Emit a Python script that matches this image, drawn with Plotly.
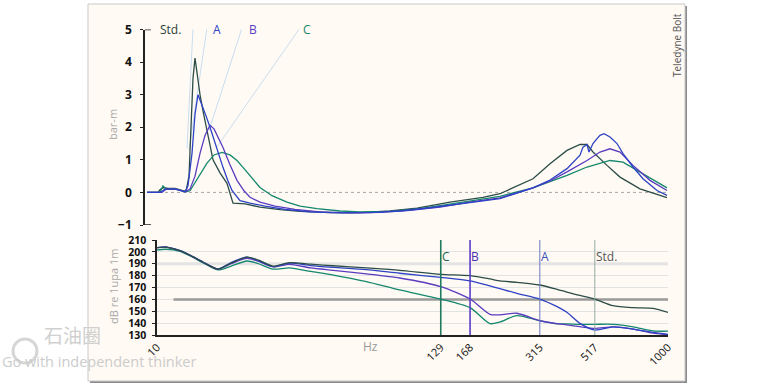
import math
import plotly.graph_objects as go

W, H = 775, 388

# ---------------- Upper panel: pressure signature (bar-m) vs time ----------------
std_t = [0, 11, 13, 16, 21, 28, 35, 39, 42, 44, 46, 48, 50, 53, 56, 61, 66, 73, 80, 86, 98, 113, 133, 153,
         183, 213, 243, 270, 303, 336, 353, 386, 403, 420, 433, 440, 446, 460, 473, 493, 520]
std_v = [0, 0, 0.08, 0.15, 0.12, 0.12, 0.06, 0.03, 0.5, 2.0, 3.5, 4.12, 3.6, 3.0, 2.5, 1.7, 1.0, 0.6, 0.28,
         -0.33, -0.35, -0.45, -0.53, -0.58, -0.62, -0.62, -0.57, -0.48, -0.3, -0.15, -0.04, 0.42, 0.88,
         1.29, 1.47, 1.47, 1.24, 0.83, 0.47, 0.11, -0.16]

a_t = [0, 13, 18, 28, 38, 41, 45, 48, 51, 55, 59, 63, 69, 76, 81, 85, 93, 103, 118, 138, 163, 193, 223, 253,
       283, 313, 353, 386, 403, 420, 430, 433, 436, 440, 442, 446, 450, 453, 457, 463, 470, 476, 486, 496,
       510, 520]
a_v = [0, 0, 0.1, 0.1, 0.02, 0.2, 1.2, 2.4, 3.0, 2.7, 2.35, 2.0, 1.4, 0.77, 0.35, 0.06, -0.25, -0.33, -0.42,
       -0.52, -0.6, -0.63, -0.62, -0.57, -0.47, -0.35, -0.19, 0.14, 0.38, 0.73, 1.05, 1.14, 1.39, 1.47,
       1.24, 1.5, 1.65, 1.75, 1.8, 1.7, 1.5, 1.19, 0.78, 0.42, 0.06, -0.09]

b_t = [0, 15, 19, 29, 38, 43, 48, 53, 58, 63, 67, 71, 76, 83, 90, 97, 103, 113, 128, 148, 173, 203, 233,
       263, 293, 323, 353, 386, 403, 420, 440, 453, 463, 473, 486, 503, 520]
b_v = [0, 0, 0.1, 0.1, 0.02, 0.1, 0.5, 1.2, 1.75, 2.06, 1.95, 1.7, 1.38, 0.85, 0.37, 0.05, -0.15, -0.3,
       -0.42, -0.52, -0.6, -0.63, -0.61, -0.55, -0.45, -0.3, -0.17, 0.14, 0.35, 0.63, 0.98, 1.24, 1.34,
       1.24, 0.83, 0.37, 0.06]

c_t = [0, 13, 16, 19, 29, 39, 43, 48, 53, 60, 67, 75, 83, 90, 96, 103, 113, 125, 140, 153, 170, 193, 213,
       243, 273, 303, 333, 353, 386, 403, 420, 440, 463, 476, 493, 506, 520]
c_v = [0, 0, 0.2, 0.1, 0.1, 0.02, 0.05, 0.3, 0.58, 0.9, 1.15, 1.23, 1.15, 0.98, 0.77, 0.5, 0.15, -0.1, -0.3,
       -0.42, -0.5, -0.57, -0.6, -0.58, -0.5, -0.36, -0.22, -0.12, 0.14, 0.32, 0.52, 0.78, 0.98, 0.93,
       0.62, 0.37, 0.14]

upper_ticks = [-1, 0, 1, 2, 3, 4, 5]

# ---------------- Lower panel: spectrum (dB re 1upa 1m) vs frequency ----------------
freq = [10, 10.8, 12.3, 13.5, 15.1, 17.3, 19.5, 22.5, 25, 28.4, 33, 40, 49, 66, 89, 129, 168, 201, 220,
        256, 315, 368, 402, 452, 517, 609, 730, 874, 1000]
std_db = [203.5, 204, 201, 197, 191.5, 185.5, 190.5, 195.5, 193, 188, 191, 189.6, 188.3, 186.5, 184.5,
          181.1, 180, 177.2, 175.5, 174.4, 172.1, 168.5, 166.2, 163.3, 160.3, 154.7, 153, 152.4, 149.1]
a_db = [203.5, 204.2, 201, 197, 191.5, 185.5, 191, 195.5, 192.5, 187.5, 190.5, 188.5, 187, 185, 182,
        178.5, 175.5, 171.3, 169, 165.1, 160.3, 153.9, 149.1, 139.8, 134.2, 136.9, 135, 132.2, 130.6]
b_db = [203.5, 204, 201, 197, 191.5, 185.5, 190, 194.5, 192, 187.5, 189.5, 186.5, 184.5, 181.5, 178,
        170.7, 160.3, 147.4, 147, 148.3, 142, 139.5, 138.5, 137, 135.6, 136.9, 135, 131.5, 130.2]
c_db = [201.6, 202.2, 200.5, 196.5, 191, 184.8, 188, 192.3, 190, 185.5, 186.5, 183.5, 180.5, 175, 168,
        160.3, 153, 139.6, 141, 146.3, 142, 139.4, 139.4, 139, 139, 139, 136.9, 133.4, 133.2]

freq_marks = [129, 168, 315, 517]
freq_mark_names = ["C", "B", "A", "Std."]
x_tickvals = [10, 129, 168, 315, 517, 1000]
x_ticktext = ["10", "129", "168", "315", "517", "1000"]
lower_ticks = [130, 140, 150, 160, 170, 180, 190, 200, 210]
threshold_db = 160
threshold_start = 11.6
emph_db = 190

series_names = ["Std.", "A", "B", "C"]
col = {"Std.": "#2c4d47", "A": "#2d42c4", "B": "#5a3cc0", "C": "#14876d"}
mark_col = {"C": "#1f7a60", "B": "#5b3dc8", "A": "#6a7ac4", "Std.": "#93aba5"}
mark_w = {"C": 1.6, "B": 1.6, "A": 1.0, "Std.": 1.0}
label_col = {"C": "#1a6453", "B": "#4a30b0", "A": "#3a4fb8", "Std.": "#555555"}

# label positions in the upper panel (time units) and leader line ends
upper_label_t = {"Std.": 23, "A": 70, "B": 106, "C": 160}
leader = {"Std.": (46, 5.05, 40, 1.35), "A": (60, 5.05, 42, 1.3),
          "B": (95, 5.05, 62, 1.9), "C": (153, 5.05, 70, 1.4)}

FONT = "Open Sans"
AX_X = 145 / W  # upper y-axis position (paper)

fig = go.Figure()

# zero line (dotted)
fig.add_trace(go.Scatter(x=[std_t[0], std_t[-1]], y=[0, 0], mode="lines",
                         line=dict(color="#a8a8a8", width=1, dash="dot"), xaxis="x", yaxis="y"))

for name, t, v in [("Std.", std_t, std_v), ("C", c_t, c_v), ("B", b_t, b_v), ("A", a_t, a_v)]:
    fig.add_trace(go.Scatter(x=t, y=v, mode="lines", line=dict(color=col[name], width=1.3),
                             xaxis="x", yaxis="y"))

# lower: emphasised 190 line and 160 threshold
fig.add_trace(go.Scatter(x=[freq[0], freq[-1]], y=[emph_db, emph_db], mode="lines",
                         line=dict(color="#e4e4e4", width=3), xaxis="x2", yaxis="y2"))
fig.add_trace(go.Scatter(x=[threshold_start, freq[-1]], y=[threshold_db, threshold_db], mode="lines",
                         line=dict(color="#9a9a9a", width=2.5), xaxis="x2", yaxis="y2"))

for name, v in [("C", c_db), ("B", b_db), ("A", a_db), ("Std.", std_db)]:
    fig.add_trace(go.Scatter(x=freq, y=v, mode="lines",
                             line=dict(color=col[name], width=1.3, shape="spline", smoothing=0.7),
                             xaxis="x2", yaxis="y2"))

shapes = [
    dict(type="rect", xref="paper", yref="paper", x0=90 / W, x1=687 / W, y0=1 - 383 / H, y1=1 - 6 / H,
         fillcolor="#8c8c8c", line=dict(width=0), layer="below"),
    dict(type="rect", xref="paper", yref="paper", x0=88 / W, x1=685 / W, y0=1 - 381 / H, y1=1 - 4 / H,
         fillcolor="#fffaf3", line=dict(color="#c9c9c9", width=1), layer="below"),
    # watermark logo circle
    dict(type="circle", xref="paper", yref="paper", x0=13 / W, x1=37 / W, y0=1 - 363 / H, y1=1 - 339 / H,
         line=dict(color="#d6d6d6", width=3), layer="above"),
]
# inward end ticks of the upper y axis ("[" bracket)
for yv in (upper_ticks[0], upper_ticks[-1]):
    shapes.append(dict(type="line", xref="paper", yref="y", x0=AX_X, x1=AX_X + 6 / W, y0=yv, y1=yv,
                       line=dict(color="#222222", width=1.5)))
for name in series_names:
    x0, y0, x1, y1 = leader[name]
    shapes.append(dict(type="line", xref="x", yref="y", x0=x0, y0=y0, x1=x1, y1=y1,
                       line=dict(color="#c9dcf0", width=1), layer="below"))
for f, n in zip(freq_marks, freq_mark_names):
    shapes.append(dict(type="line", xref="x2", yref="y2", x0=f, x1=f, y0=lower_ticks[0], y1=lower_ticks[-1],
                       line=dict(color=mark_col[n], width=mark_w[n])))

annotations = []
for name in series_names:
    annotations.append(dict(x=upper_label_t[name], y=5, xref="x", yref="y", text=name, showarrow=False,
                            font=dict(family=FONT, size=12, color=col[name] if name != "Std." else "#2a3f3a"),
                            xanchor="center", yanchor="middle"))
for f, n in zip(freq_marks, freq_mark_names):
    # annotation x on a log axis is given in log10 units
    annotations.append(dict(x=math.log10(f), y=195.7, xref="x2", yref="y2", text=n, showarrow=False,
                            font=dict(family=FONT, size=12, color=label_col[n]),
                            xanchor="left", xshift=-1, yanchor="middle"))
annotations += [
    dict(x=113 / W, y=1 - 125 / H, xref="paper", yref="paper", text="bar-m", textangle=-90, showarrow=False,
         xanchor="center", yanchor="middle", font=dict(family=FONT, size=11, color="#a9a9a9")),
    dict(x=113 / W, y=1 - 287 / H, xref="paper", yref="paper", text="dB re 1upa 1m", textangle=-90,
         showarrow=False, xanchor="center", yanchor="middle",
         font=dict(family=FONT, size=11, color="#a9a9a9")),
    dict(x=370 / W, y=1 - 357 / H, xref="paper", yref="paper", text="Hz", showarrow=False,
         xanchor="center", font=dict(family=FONT, size=12, color="#9a9a9a")),
    dict(x=677 / W, y=1 - 45 / H, xref="paper", yref="paper", text="Teledyne Bolt", textangle=-90,
         showarrow=False, xanchor="center", yanchor="middle",
         font=dict(family=FONT, size=10, color="#555555")),
    dict(x=42 / W, y=1 - 350 / H, xref="paper", yref="paper", text="石油圈", showarrow=False,
         xanchor="left", font=dict(family="Noto Sans CJK SC", size=19, color="#d0d0d0")),
    dict(x=0 / W, y=1 - 373 / H, xref="paper", yref="paper", text="Go with independent thinker",
         showarrow=False, xanchor="left", font=dict(family=FONT, size=14.5, color="#cccccc")),
]

fig.update_layout(
    width=W, height=H, margin=dict(l=0, r=0, t=0, b=0, autoexpand=False),
    paper_bgcolor="white", plot_bgcolor="rgba(0,0,0,0)",
    showlegend=False, hovermode=False,
    font=dict(family=FONT, color="#111111"),
    xaxis=dict(domain=[AX_X, 668 / W], range=[-2, 521], visible=False, anchor="y", automargin=False),
    yaxis=dict(domain=[1 - 225 / H, 1 - 29.5 / H], range=[-1, 5], tickvals=upper_ticks, automargin=False,
               showline=True, linecolor="#222222", linewidth=1.5, ticks="outside", ticklen=3,
               tickcolor="#222222", showgrid=False, zeroline=False, anchor="x", ticklabelstandoff=6,
               tickfont=dict(family=FONT, size=12, color="#111111", weight="bold")),
    xaxis2=dict(domain=[157 / W, 668 / W], type="log", range=[1, 3], anchor="y2", automargin=False,
                tickvals=x_tickvals, ticktext=x_ticktext, tickangle=-45, ticks="",
                showline=True, linecolor="#222222", linewidth=1.5, showgrid=False, zeroline=False,
                tickfont=dict(family=FONT, size=11, color="#111111")),
    yaxis2=dict(domain=[1 - 335 / H, 1 - 240 / H], range=[130, 210], tickvals=lower_ticks, anchor="x2",
                automargin=False, ticklabelstandoff=4,
                showline=True, linecolor="#222222", linewidth=1.5, ticks="outside", ticklen=3,
                tickcolor="#222222", showgrid=True, gridcolor="#e3e3e3", gridwidth=1, zeroline=False,
                tickfont=dict(family=FONT, size=10.5, color="#111111", weight="bold")),
    shapes=shapes, annotations=annotations,
)

fig.write_html("out.html", config={"displayModeBar": False},
               post_script="document.body.style.margin='0px';")
